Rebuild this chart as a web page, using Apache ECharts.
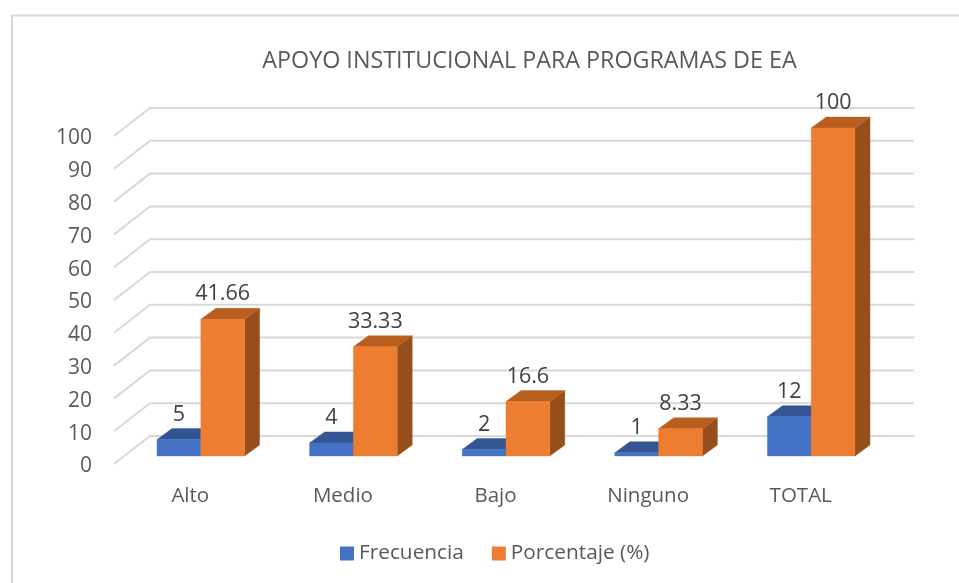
<!DOCTYPE html>
<html><head><meta charset="utf-8">
<style>html,body{margin:0;padding:0;background:#fff}#c{width:959px;height:583px}</style>
<script src="https://cdn.jsdelivr.net/npm/echarts@6/dist/echarts.min.js"></script>
</head><body><div id="c"></div>
<script>
const titleText = 'APOYO INSTITUCIONAL PARA PROGRAMAS DE EA';
const categories = ['Alto', 'Medio', 'Bajo', 'Ninguno', 'TOTAL'];
const frecuencia = [5, 4, 2, 1, 12];
const porcentaje = [41.66, 33.33, 16.6, 8.33, 100];
const yTicks = [0, 10, 20, 30, 40, 50, 60, 70, 80, 90, 100];
const fontFamily = '"Open Sans","Noto Sans",sans-serif';

// Oblique projection of the 3D look
const WALL_DX = 36, WALL_DY = -28, WALL_RIGHT = 914;
const BAR_OFF_DX = 10.5, BAR_OFF_DY = -8, BAR_DX = 15, BAR_DY = -11;
const BAR_FRAC = 0.287;

const chart = echarts.init(document.getElementById('c'), null, {renderer: 'canvas'});

function poly(points, fill) {
  return {type: 'polygon', shape: {points}, style: {fill, stroke: fill, lineWidth: 0.4}};
}
function makeBar(side, faces) {
  return function (params, api) {
    const v = api.value(1);
    const band = api.size([1, 0])[0];
    const w = band * BAR_FRAC;
    const base = api.coord([api.value(0), 0]);
    const top = api.coord([api.value(0), v]);
    const x0 = base[0] + BAR_OFF_DX + (side < 0 ? -w : 0);
    const x1 = x0 + w;
    const yb = base[1] + BAR_OFF_DY;
    const yt = top[1] + BAR_OFF_DY;
    return {
      type: 'group',
      children: [
        poly([[x1, yb], [x1 + BAR_DX, yb + BAR_DY], [x1 + BAR_DX, yt + BAR_DY], [x1, yt]], faces.side),
        poly([[x0, yt], [x0 + BAR_DX, yt + BAR_DY], [x1 + BAR_DX, yt + BAR_DY], [x1, yt]], faces.top),
        poly([[x0, yb], [x1, yb], [x1, yt], [x0, yt]], faces.front),
        {type: 'text', style: {
          text: String(v), x: (x0 + x1) / 2, y: yt + BAR_DY - 14,
          align: 'center', verticalAlign: 'middle',
          fill: '#404040', font: '21.5px ' + fontFamily
        }}
      ]
    };
  };
}

chart.setOption({
  animation: false,
  backgroundColor: '#fff',
  title: {
    text: titleText, left: 524.5, top: 45, textAlign: 'center',
    textStyle: {color: '#595959', fontSize: 23.3, fontWeight: 'normal', fontFamily}
  },
  legend: {
    data: ['Frecuencia', 'Porcentaje (%)'],
    left: 335, top: 538, itemWidth: 14, itemHeight: 14, itemGap: 28, icon: 'rect',
    textStyle: {color: '#595959', fontSize: 20.8, fontFamily}
  },
  grid: {left: 114, top: 136, width: 763, height: 328, containLabel: false},
  xAxis: {
    type: 'category', data: categories,
    axisLine: {show: false}, axisTick: {show: false},
    axisLabel: {color: '#595959', fontSize: 20.5, fontFamily, margin: 22}
  },
  yAxis: {
    type: 'value', min: 0, max: 100, interval: 10,
    axisLine: {show: false}, axisTick: {show: false}, splitLine: {show: false},
    axisLabel: {color: '#595959', fontSize: 21, fontFamily, margin: 22, verticalAlign: 'top', lineHeight: 5}
  },
  graphic: [{
    type: 'polyline', silent: true, z: -1,
    shape: {points: [[12, 583], [12, 15.5], [959, 15.5]]},
    style: {stroke: '#d9d9d9', lineWidth: 2, fill: 'none'}
  }],
  series: [
    {
      type: 'custom', name: 'grid', silent: true, z: 1,
      data: yTicks.map(t => [t]),
      encode: {y: 0},
      renderItem(params, api) {
        const p = api.coord([0, api.value(0)]);
        const x = params.coordSys.x, y = p[1];
        return {type: 'polyline', shape: {points: [[x, y], [x + WALL_DX, y + WALL_DY], [WALL_RIGHT, y + WALL_DY]]},
          style: {stroke: '#d9d9d9', lineWidth: 2, fill: 'none'}};
      }
    },
    {
      type: 'custom', name: 'Frecuencia', z: 2,
      itemStyle: {color: '#4472C4'},
      data: frecuencia.map((v, i) => [i, v]),
      encode: {x: 0, y: 1},
      renderItem: makeBar(-1, {front: '#4472C4', top: '#335593', side: '#2A4A80'})
    },
    {
      type: 'custom', name: 'Porcentaje (%)', z: 3,
      itemStyle: {color: '#ED7D31'},
      data: porcentaje.map((v, i) => [i, v]),
      encode: {x: 0, y: 1},
      renderItem: makeBar(1, {front: '#ED7D31', top: '#B85F20', side: '#964F1A'})
    }
  ]
});
</script></body></html>
